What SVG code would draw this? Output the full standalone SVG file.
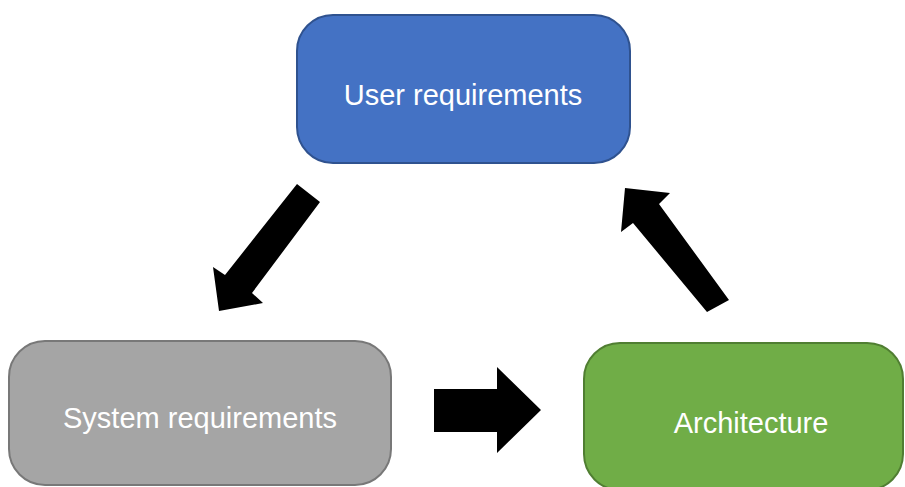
<svg xmlns="http://www.w3.org/2000/svg" width="905" height="487" viewBox="0 0 905 487">
  <style>
    .box { stroke-width: 2; }
    .label { font-family: "Liberation Sans", Arial, sans-serif; font-size: 29px; fill: #ffffff; text-anchor: middle; }
    .arrow { fill: #000000; stroke: none; }
  </style>
  <rect width="905" height="487" fill="#ffffff"/>

  <g id="user-requirements">
    <rect class="box" x="297" y="15" width="333" height="148" rx="36" ry="36" fill="#4472C4" stroke="#2F528F"/>
    <text class="label" x="463" y="105">User requirements</text>
  </g>

  <g id="system-requirements">
    <rect class="box" x="9" y="341" width="382" height="144" rx="36" ry="36" fill="#A5A5A5" stroke="#787878"/>
    <text class="label" x="200" y="428">System requirements</text>
  </g>

  <g id="architecture">
    <rect class="box" x="584" y="343" width="319" height="147" rx="36" ry="36" fill="#70AD47" stroke="#507E32"/>
    <text class="label" x="751" y="433">Architecture</text>
  </g>

  <g id="connectors">
    <!-- user requirements to system requirements -->
    <polygon class="arrow" points="297,184 320,202 252,293 263,303 219,311 213,267 225,275"/>
    <!-- system requirements to architecture -->
    <polygon class="arrow" points="434,389 497,389 497,367 541,410 497,453 497,432 434,432"/>
    <!-- architecture to user requirements -->
    <polygon class="arrow" points="729,300 707,312 633,223 621,232 625,188 670,193 659,204"/>
  </g>
</svg>
